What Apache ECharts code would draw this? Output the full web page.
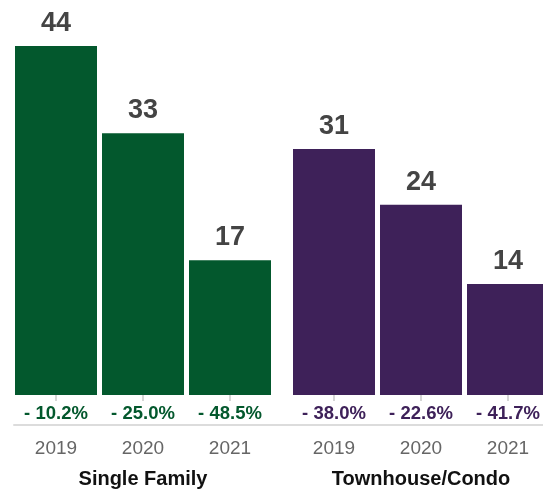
<!DOCTYPE html>
<html>
<head>
<meta charset="utf-8">
<script src="https://cdn.jsdelivr.net/npm/echarts@6/dist/echarts.min.js"></script>
<style>
  html, body { margin: 0; padding: 0; background: #fff; }
  #chart { width: 543px; height: 493px; }
</style>
</head>
<body>
<div id="chart"></div>
<script>
// data
var years = ['2019', '2020', '2021'];
var groupNames = ['Single Family', 'Townhouse/Condo'];
var singleFamily = [44, 33, 17];
var townhouse = [31, 24, 14];
var singleFamilyChange = ['- 10.2%', '- 25.0%', '- 48.5%'];
var townhouseChange = ['- 38.0%', '- 22.6%', '- 41.7%'];

var GREEN = '#03582d';
var PURPLE = '#3e2159';
var FONT = 'Liberation Sans, Arial, sans-serif';

var chart = echarts.init(document.getElementById('chart'), null, { renderer: 'canvas' });

function yearAxis(gridIndex, name) {
    return {
        type: 'category',
        gridIndex: gridIndex,
        data: years,
        position: 'bottom',
        offset: 30,
        axisLine: { show: false },
        axisTick: { show: true, alignWithLabel: true, length: 6, lineStyle: { color: '#d6d6d6', width: 2 } },
        axisLabel: { margin: 14, color: '#666', fontSize: 19, fontFamily: FONT },
        name: name,
        nameLocation: 'middle',
        nameGap: 44,
        nameTextStyle: { color: '#111', fontSize: 20, fontWeight: 'bold', fontFamily: FONT }
    };
}

function changeAxis(gridIndex, labels, color) {
    return {
        type: 'category',
        gridIndex: gridIndex,
        data: labels,
        position: 'bottom',
        offset: 0,
        axisLine: { show: false },
        axisTick: { show: false },
        axisLabel: { margin: 9, color: color, fontSize: 18.5, fontWeight: 'bold', fontFamily: FONT }
    };
}

function valueAxis(gridIndex) {
    return { type: 'value', gridIndex: gridIndex, min: 0, max: 49.8, show: false };
}

function barSeries(idx, values, color) {
    return {
        type: 'bar',
        xAxisIndex: idx * 2,
        yAxisIndex: idx,
        data: values,
        barWidth: 82,
        itemStyle: { color: color },
        label: {
            show: true,
            position: 'top',
            distance: 9,
            color: '#444',
            fontSize: 27,
            fontWeight: 'bold',
            fontFamily: FONT
        }
    };
}

var option = {
    animation: false,
    grid: [
        { left: 12.5, width: 261, top: 0, bottom: 98, outerBoundsMode: 'none' },
        { left: 290.5, width: 261, top: 0, bottom: 98, outerBoundsMode: 'none' },
        // just for the long baseline under both groups
        { left: 14, right: 0, top: 0, bottom: 68, outerBoundsMode: 'none' }
    ],
    xAxis: [
        yearAxis(0, groupNames[0]),
        changeAxis(0, singleFamilyChange, GREEN),
        yearAxis(1, groupNames[1]),
        changeAxis(1, townhouseChange, PURPLE),
        {
            type: 'category',
            gridIndex: 2,
            data: [''],
            axisLine: { show: true, lineStyle: { color: '#dcdcdc', width: 2 } },
            axisTick: { show: false },
            axisLabel: { show: false }
        }
    ],
    yAxis: [valueAxis(0), valueAxis(1), { type: 'value', gridIndex: 2, show: false }],
    series: [
        barSeries(0, singleFamily, GREEN),
        barSeries(1, townhouse, PURPLE)
    ]
};

chart.setOption(option);
</script>
</body>
</html>
